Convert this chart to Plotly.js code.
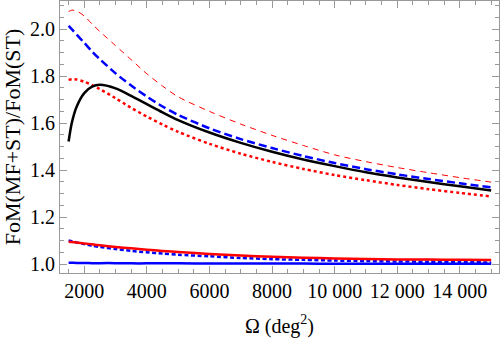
<!DOCTYPE html>
<html>
<head>
<meta charset="utf-8">
<script src="https://cdn.plot.ly/plotly-3.0.1.min.js"></script>
<style>html,body{margin:0;padding:0;background:#fff;}#chart{width:500px;height:338px;}</style>
</head>
<body>
<div id="chart"></div>
<script>
// Survey area Omega (deg^2)
const omega = [1500, 1600, 1750, 2000, 2250, 2500, 3000, 3500, 4000, 4500, 5000, 6000, 7000, 8000, 9000, 10000, 11000, 12000, 13000, 14000, 15000];

// FoM(MF+ST)/FoM(ST) curves
const redThinDashed = [2.075, 2.081, 2.078, 2.056, 2.022, 1.990, 1.930, 1.870, 1.810, 1.758, 1.712, 1.650, 1.596, 1.548, 1.505, 1.465, 1.436, 1.411, 1.389, 1.368, 1.349];
const blueDashed    = [2.014, 2.000, 1.978, 1.942, 1.905, 1.872, 1.812, 1.760, 1.713, 1.671, 1.635, 1.578, 1.532, 1.494, 1.460, 1.430, 1.404, 1.382, 1.362, 1.344, 1.327];
const blackSolid    = [1.522, 1.600, 1.668, 1.728, 1.755, 1.763, 1.748, 1.716, 1.681, 1.646, 1.613, 1.560, 1.516, 1.478, 1.445, 1.417, 1.391, 1.369, 1.349, 1.331, 1.313];
const redDotted     = [1.784, 1.787, 1.786, 1.776, 1.762, 1.745, 1.706, 1.665, 1.628, 1.594, 1.563, 1.512, 1.470, 1.435, 1.405, 1.379, 1.357, 1.337, 1.319, 1.303, 1.288];
const redSolid      = [1.095, 1.094, 1.092, 1.088, 1.084, 1.080, 1.073, 1.067, 1.061, 1.056, 1.051, 1.043, 1.036, 1.031, 1.027, 1.024, 1.022, 1.020, 1.019, 1.018, 1.017];
const blueDotted    = [1.100, 1.097, 1.092, 1.085, 1.078, 1.073, 1.064, 1.056, 1.050, 1.045, 1.040, 1.033, 1.026, 1.021, 1.018, 1.015, 1.013, 1.011, 1.010, 1.008, 1.007];
const blueSolid     = [1.006, 1.006, 1.005, 1.005, 1.004, 1.004, 1.004, 1.003, 1.003, 1.003, 1.003, 1.002, 1.002, 1.002, 1.002, 1.001, 1.001, 1.001, 1.001, 1.001, 1.001];

const xTickVals = [2000, 4000, 6000, 8000, 10000, 12000, 14000];
const xTickText = ['2000', '4000', '6000', '8000', '10 000', '12 000', '14 000'];
const yTickVals = [1.0, 1.2, 1.4, 1.6, 1.8, 2.0];
const yTickText = ['1.0', '1.2', '1.4', '1.6', '1.8', '2.0'];

function tr(y, color, width, dash) {
  return {x: omega, y: y, type: 'scatter', mode: 'lines',
          line: {color: color, width: width, dash: dash, shape: 'spline', smoothing: 0.8},
          hoverinfo: 'skip', showlegend: false};
}

const data = [
  tr(blueSolid, '#0000ff', 2.5, 'solid'),
  tr(blueDotted, '#0000ff', 2.5, '4px,2.5px'),
  tr(redSolid, '#ff0000', 2.5, 'solid'),
  tr(redDotted, '#ff0000', 2.5, '3px,3px'),
  tr(blackSolid, '#000000', 2.5, 'solid'),
  tr(blueDashed, '#0000ff', 2.5, '8px,4px'),
  tr(redThinDashed, '#ff0000', 1, '6px,5px')
];

const fontFam = '"Liberation Serif", "Times New Roman", serif';
const frame = '#999999';

const layout = {
  width: 500, height: 338,
  margin: {l: 60, r: 1, t: 1, b: 65},
  paper_bgcolor: '#ffffff', plot_bgcolor: '#ffffff',
  font: {family: fontFam, size: 20, color: '#000'},
  xaxis: {
    range: [1225, 15250], showgrid: false, zeroline: false,
    showline: true, linecolor: frame, linewidth: 1, mirror: 'allticks',
    ticks: 'inside', ticklen: 7, tickcolor: frame, tickwidth: 1,
    tickmode: 'array', tickvals: xTickVals, ticktext: xTickText,
    tickfont: {family: fontFam, size: 20, color: '#000'},
    minor: {dtick: 500, tick0: 0, ticks: 'inside', ticklen: 4, tickcolor: frame, tickwidth: 1, showgrid: false},
    title: {text: 'Ω (deg<sup>2</sup>)', font: {family: fontFam, size: 20, color: '#000'}, standoff: 17},
    automargin: false
  },
  yaxis: {
    range: [0.962, 2.12], showgrid: false, zeroline: false,
    showline: true, linecolor: frame, linewidth: 1, mirror: 'allticks',
    ticks: 'inside', ticklen: 7, tickcolor: frame, tickwidth: 1,
    tickmode: 'array', tickvals: yTickVals, ticktext: yTickText,
    tickfont: {family: fontFam, size: 20, color: '#000'},
    minor: {dtick: 0.05, tick0: 0, ticks: 'inside', ticklen: 4, tickcolor: frame, tickwidth: 1, showgrid: false},
    title: {text: 'FoM(MF+ST)/FoM(ST)', font: {family: fontFam, size: 22, color: '#000'}, standoff: 5},
    automargin: false
  }
};

Plotly.newPlot('chart', data, layout, {staticPlot: true, displayModeBar: false});
</script>
</body>
</html>
